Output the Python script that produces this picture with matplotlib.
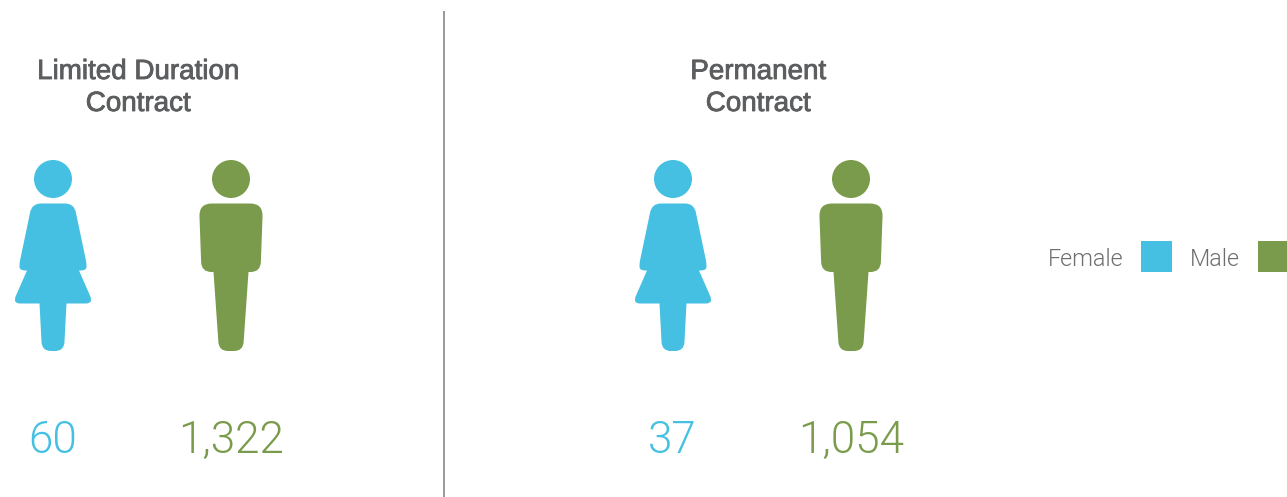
import matplotlib
matplotlib.use("Agg")
import matplotlib.pyplot as plt
import matplotlib.patheffects as pe
from matplotlib.path import Path
from matplotlib.patches import PathPatch, Circle, Rectangle

panel_titles = ["Limited Duration\nContract", "Permanent\nContract"]
female_counts = [60, 37]
male_counts = [1322, 1054]
legend_labels = ["Female", "Male"]

FEMALE = "#45c0e2"
MALE = "#7a9b4b"
W, H = 1287, 497

# Icon outlines: (dx, dy, corner radius) around the icon's centre line
female_shape = [(-21, 203.5, 9), (21, 203.5, 9), (33.5, 263, 3), (33.5, 270.5, 6), (26, 270.5, 0),
                (38.5, 299, 3), (37, 303.5, 4), (13.5, 303.5, 0), (11, 351, 9), (-11, 351, 9),
                (-13.5, 303.5, 0), (-37, 303.5, 4), (-38.5, 299, 3), (-26, 270.5, 0), (-33.5, 270.5, 6), (-33.5, 263, 3)]
male_shape = [(-32, 203.5, 13), (32, 203.5, 13), (29.5, 272, 10), (17.5, 272, 0), (12, 351, 9),
              (-12, 351, 9), (-17.5, 272, 0), (-29.5, 272, 10)]


def rounded(points, cx):
    verts, codes = [], []
    n = len(points)
    for i, (x, y, r) in enumerate(points):
        px, py, pr = points[i - 1]
        nx, ny, nr = points[(i + 1) % n]
        d1 = ((px - x) ** 2 + (py - y) ** 2) ** .5
        d2 = ((nx - x) ** 2 + (ny - y) ** 2) ** .5
        t1 = min(r, d1 * (0.5 if pr else 0.95))
        t2 = min(r, d2 * (0.5 if nr else 0.95))
        a = (x + (px - x) * t1 / d1, y + (py - y) * t1 / d1)
        b = (x + (nx - x) * t2 / d2, y + (ny - y) * t2 / d2)
        verts.append((a[0] + cx, a[1]))
        codes.append(Path.MOVETO if i == 0 else Path.LINETO)
        verts += [(x + cx, y), (b[0] + cx, b[1])]
        codes += [Path.CURVE3, Path.CURVE3]
    verts.append(verts[0])
    codes.append(Path.CLOSEPOLY)
    return Path(verts, codes)


def person(ax, cx, shape, color):
    ax.add_patch(Circle((cx, 179), 19, fc=color, ec="none"))
    ax.add_patch(PathPatch(rounded(shape, cx), fc=color, ec="none"))


fig = plt.figure(figsize=(W / 100, H / 100), dpi=100)
ax = fig.add_axes([0, 0, 1, 1])
ax.set_xlim(0, W)
ax.set_ylim(H, 0)
ax.axis("off")

TITLE = dict(family="Liberation Sans", color="#5c5d5f", fontsize=20,
             ha="center", va="center", linespacing=1.3,
             path_effects=[pe.withStroke(linewidth=0.6, foreground="#5c5d5f")])
NUM = dict(family="Roboto", weight=300, fontsize=31.7, ha="center", va="center")
LEG = dict(family="Roboto", weight=300, color="#6d6e70", fontsize=16.8, va="center", ha="left")

title_x = [138, 758]
female_x = [53, 673]
male_x = [231, 851]
for i in range(2):
    ax.text(title_x[i], 88, panel_titles[i], **TITLE)
    person(ax, female_x[i], female_shape, FEMALE)
    person(ax, male_x[i], male_shape, MALE)
    ax.text(female_x[i] - 0.5, 440.5, f"{female_counts[i]:,}", color=FEMALE, **NUM)
    ax.text(male_x[i], 440.5, f"{male_counts[i]:,}", color=MALE, **NUM)

ax.plot([443.5, 443.5], [11, 497], color="#7d7d7d", lw=1.1, solid_capstyle="butt")

ax.text(1048, 260, legend_labels[0], **LEG)
ax.add_patch(Rectangle((1141, 241), 31, 31, fc=FEMALE, ec="none"))
ax.text(1190, 260, legend_labels[1], **LEG)
ax.add_patch(Rectangle((1258, 241), 29, 31, fc=MALE, ec="none"))

fig.savefig("out.png", dpi=100)
